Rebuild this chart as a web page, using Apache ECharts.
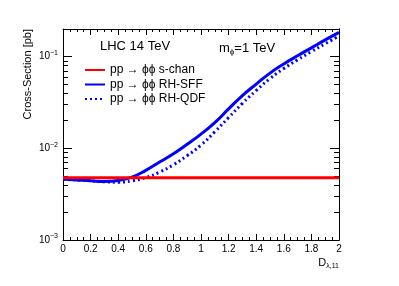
<!DOCTYPE html>
<html><head><meta charset="utf-8">
<script src="https://cdn.jsdelivr.net/npm/echarts@6/dist/echarts.min.js"></script>
<style>html,body{margin:0;padding:0;background:#fff}#c{width:399px;height:286px}</style>
</head><body><div id="c"></div>
<script>
const xs = [0,0.1,0.2,0.3,0.4,0.5,0.6,0.7,0.8,0.9,1.0,1.1,1.2,1.3,1.4,1.5,1.6,1.7,1.8,1.9,2.0];
const schan = [0.00477,0.00477,0.00477,0.00477,0.00477,0.00477,0.00477,0.00477,0.00477,0.00477,0.00477,0.00477,0.00477,0.00477,0.00477,0.00477,0.00477,0.00477,0.00477,0.00477,0.00477];
const sff = [0.0046,0.00452,0.00442,0.00435,0.00446,0.00484,0.00575,0.00708,0.00871,0.01109,0.01429,0.01905,0.0269,0.0376,0.0501,0.0661,0.0832,0.1023,0.1245,0.152,0.184];
const qdf = [0.00457,0.00452,0.00442,0.00432,0.00427,0.00442,0.00479,0.0055,0.00661,0.00832,0.01084,0.01514,0.02163,0.0309,0.0427,0.0575,0.0741,0.0923,0.1135,0.138,0.168];
const seriesNames = ['pp \u2192 \u03d5\u03d5 s-chan','pp \u2192 \u03d5\u03d5 RH-SFF','pp \u2192 \u03d5\u03d5 RH-QDF'];
const yMin = 0.001, yMax = 0.2;
const yMajor = [0.001,0.01,0.1];
const yMinor = [];
yMajor.forEach(d=>{for(let k=2;k<=9;k++){const v=d*k; if(v<=yMax*1.0001) yMinor.push(v);}});
const L = v => Math.log10(v);
const FONT = 'Liberation Sans';
const chart = echarts.init(document.getElementById('c'), null, {renderer:'canvas'});
const pair = (ys)=>xs.map((x,i)=>[x,ys[i]]);
const supLabel = lv => {
  const e = Math.round(lv);
  return '{b|10}{s|\u2212' + Math.abs(e) + '}';
};
const helper = (pos, vals, len, labels) => ({
  type:'value', min:L(yMin), max:L(yMax), position:pos, splitLine:{show:false},
  axisLine:{show:labels!==undefined || pos==='right', lineStyle:{color:'#000',width:1}},
  axisTick:{show:true, inside:true, length:len, customValues:vals.map(L), lineStyle:{color:'#000'}},
  axisLabel: labels ? {show:true, margin:5, customValues:yMajor.map(L), formatter:supLabel,
      rich:{b:{fontFamily:FONT,fontSize:10,color:'#000'},s:{fontFamily:FONT,fontSize:7,color:'#000',padding:[0,0,7,0]}}} : {show:false}
});
chart.setOption({
  animation:false,
  grid:{left:63,right:60,top:29,bottom:46,show:false},
  title:[
    {text:'LHC 14 TeV', left:100, top:40, padding:0, textStyle:{fontFamily:FONT,fontSize:13,fontWeight:'normal',color:'#000'}},
    {text:'{a|m}{s|\u03d5}{a|=1 TeV}', left:219, top:40, padding:0, textStyle:{fontWeight:'normal',rich:{a:{fontFamily:FONT,fontSize:13,fontWeight:'normal',color:'#000'},s:{fontFamily:FONT,fontSize:8,fontWeight:'normal',color:'#000',padding:[8,0,0,0]}}}}
  ],
  legend:{
    orient:'vertical', left:84, top:63.5, padding:0, itemWidth:20, itemHeight:10, itemGap:1.5,
    data:seriesNames, itemStyle:{opacity:0},
    textStyle:{fontFamily:FONT,fontSize:12,lineHeight:13,color:'#000'}, selectedMode:false
  },
  xAxis:[
    {type:'value', min:0, max:2, interval:0.2, position:'bottom',
     axisLine:{lineStyle:{color:'#000',width:1}},
     axisTick:{inside:true,length:6,lineStyle:{color:'#000'}},
     minorTick:{show:true,splitNumber:4,length:3,lineStyle:{color:'#000'}},
     splitLine:{show:false},
     axisLabel:{margin:4,fontFamily:FONT,fontSize:10,color:'#000',formatter:v=>String(+v.toFixed(1))}},
    {type:'value', min:0, max:2, interval:0.2, position:'top',
     axisLine:{lineStyle:{color:'#000',width:1}},
     axisTick:{inside:true,length:6,lineStyle:{color:'#000'}},
     minorTick:{show:true,splitNumber:4,length:3,lineStyle:{color:'#000'}},
     splitLine:{show:false}, axisLabel:{show:false}}
  ],
  yAxis:[
    {type:'log', logBase:10, min:yMin, max:yMax, position:'left', splitLine:{show:false},
     axisLine:{show:false}, axisTick:{show:false}, axisLabel:{show:false}},
    helper('left', yMajor, 9, true),
    helper('left', yMinor, 5),
    helper('right', yMajor, 9),
    helper('right', yMinor, 5)
  ],
  graphic:[
    {type:'text', x:28, y:29, rotation:Math.PI/2, style:{text:'Cross-Section [pb]', font:'11px "Liberation Sans"', fill:'#000', align:'right', verticalAlign:'middle'}},
    {type:'text', x:339, y:263, style:{text:'{a|D}{s|\u03bb,11}', align:'right', verticalAlign:'middle',
      rich:{a:{fontFamily:FONT,fontSize:11,fill:'#000'},s:{fontFamily:FONT,fontSize:7,fill:'#000',padding:[6,0,0,0]}}}}
  ],
  series:[
    {name:seriesNames[0], type:'line', yAxisIndex:0, data:pair(schan), showSymbol:false, symbol:'none', lineStyle:{color:'#ff0000',width:3}, itemStyle:{color:'#ff0000'}, z:3},
    {name:seriesNames[1], type:'line', yAxisIndex:0, data:pair(sff), showSymbol:false, symbol:'none', smooth:0.5, lineStyle:{color:'#0000ff',width:3}, itemStyle:{color:'#0000ff'}, z:2},
    {name:seriesNames[2], type:'line', yAxisIndex:0, data:pair(qdf), showSymbol:false, symbol:'none', smooth:0.5, lineStyle:{color:'#0000ff',width:3,type:[2,3]}, itemStyle:{color:'#0000ff'}, z:2}
  ]
});
</script></body></html>
